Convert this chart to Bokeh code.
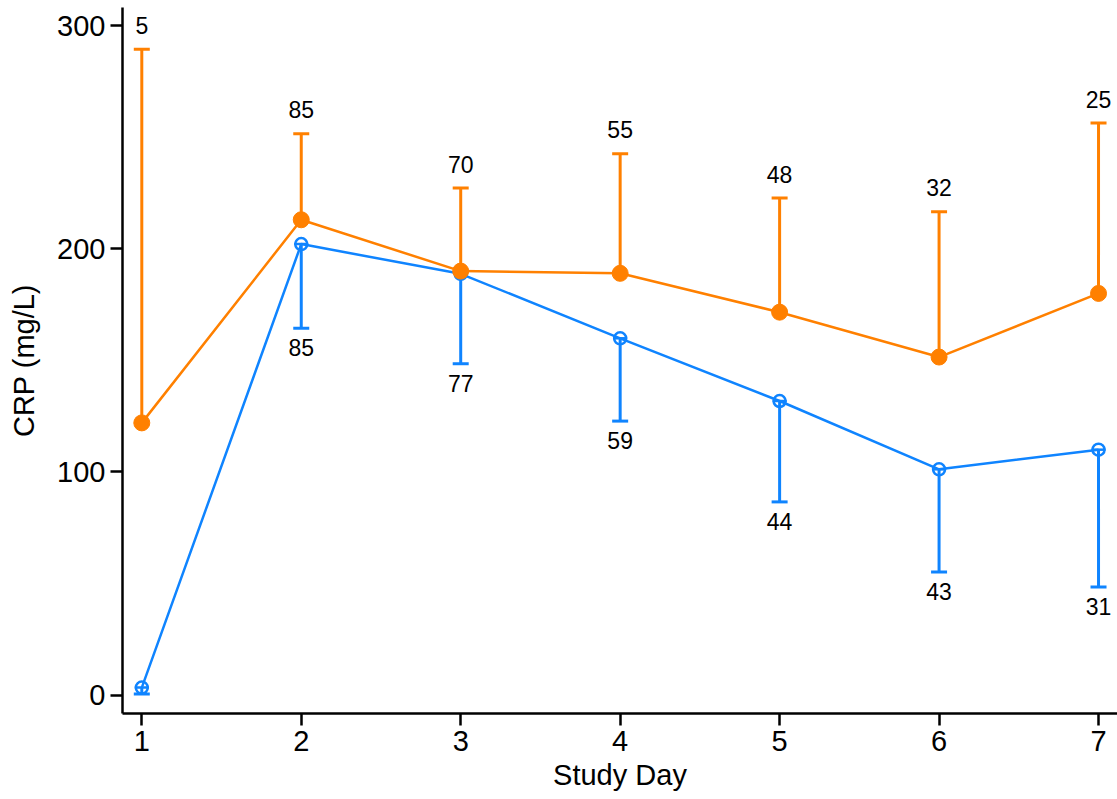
from bokeh.plotting import figure
from bokeh.models import Range1d, ColumnDataSource, FixedTicker
from bokeh.embed import file_html
from bokeh.resources import INLINE
from bokeh.core.properties import value

# ---- data ----
days = [1, 2, 3, 4, 5, 6, 7]
orange_mean = [122, 213, 190, 189, 171.6, 151.5, 180]
orange_upper = [289.4, 251.5, 227.2, 242.6, 222.7, 216.6, 256.3]
orange_n = ["5", "85", "70", "55", "48", "32", "25"]
blue_mean = [3.4, 202.1, 188.8, 159.9, 131.8, 101.2, 110.0]
blue_lower = [0.5, 164.4, 148.5, 122.8, 86.6, 55.2, 48.5]
blue_n = ["", "85", "77", "59", "44", "43", "31"]
x_ticks = [1, 2, 3, 4, 5, 6, 7]
y_ticks = [0, 100, 200, 300]

ORANGE = "#FF8000"
BLUE = "#0F84FF"
FONT = "Liberation Sans"

p = figure(width=1117, height=799, output_backend="svg", toolbar_location=None,
           x_range=Range1d(0.879, 7.119), y_range=Range1d(-8.2, 308.1),
           min_border_left=122, min_border_right=0, min_border_top=7, min_border_bottom=86)
p.outline_line_color = None
p.xgrid.grid_line_color = None
p.ygrid.grid_line_color = None
p.background_fill_color = "white"

src_o = ColumnDataSource(dict(x=days, m=orange_mean, u=orange_upper, n=orange_n))
src_b = ColumnDataSource(dict(x=days, m=blue_mean, l=blue_lower, n=blue_n))

# blue series
p.line("x", "m", source=src_b, line_color=BLUE, line_width=2.5)
p.segment(x0="x", y0="m", x1="x", y1="l", source=src_b, line_color=BLUE, line_width=3)
p.scatter("x", "l", source=src_b, marker="dash", size=16, line_color=BLUE, line_width=3)
p.scatter("x", "m", source=src_b, marker="dash", size=14, line_color=BLUE, line_width=2.5)
p.scatter("x", "m", source=src_b, marker="circle", size=12, line_color=BLUE,
          fill_color=None, line_width=2.5)
p.text("x", "l", text="n", source=src_b, text_align="center", text_baseline="top",
       y_offset=11, text_font=value(FONT), text_font_size="23px", text_color="black")

# orange series
p.line("x", "m", source=src_o, line_color=ORANGE, line_width=2.5)
p.segment(x0="x", y0="m", x1="x", y1="u", source=src_o, line_color=ORANGE, line_width=3)
p.scatter("x", "u", source=src_o, marker="dash", size=16, line_color=ORANGE, line_width=3)
p.scatter("x", "m", source=src_o, marker="circle", size=16, line_color=ORANGE,
          fill_color=ORANGE, line_width=1)
p.text("x", "u", text="n", source=src_o, text_align="center", text_baseline="alphabetic",
       y_offset=-24, text_font=value(FONT), text_font_size="23px", text_color="black")

for ax in (p.xaxis, p.yaxis):
    ax.axis_line_width = 2.5
    ax.axis_line_color = "black"
    ax.major_tick_line_width = 2.5
    ax.major_tick_line_color = "black"
    ax.major_tick_out = 12
    ax.major_tick_in = 0
    ax.minor_tick_line_color = None
    ax.major_label_text_font = FONT
    ax.major_label_text_font_size = "29px"
    ax.major_label_text_color = "black"
    ax.axis_label_text_font = FONT
    ax.axis_label_text_font_size = "29px"
    ax.axis_label_text_font_style = "normal"
    ax.axis_label_text_color = "black"

p.xaxis.ticker = FixedTicker(ticks=x_ticks)
p.yaxis.ticker = FixedTicker(ticks=y_ticks)
p.xaxis.axis_label = "Study Day"
p.yaxis.axis_label = "CRP (mg/L)"
p.xaxis.major_label_standoff = 5
p.yaxis.major_label_standoff = 5
p.xaxis.axis_label_standoff = 5
p.yaxis.axis_label_standoff = 14

open("out.html", "w").write(file_html(p, INLINE))
